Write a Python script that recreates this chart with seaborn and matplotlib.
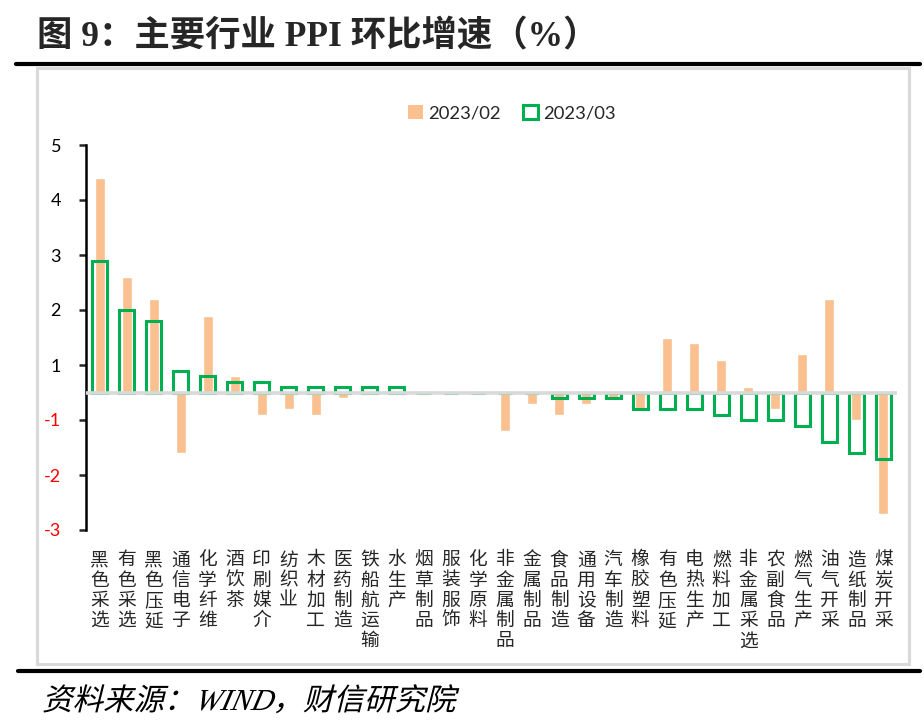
import matplotlib
matplotlib.use("Agg")
import matplotlib.pyplot as plt
from matplotlib.patches import Rectangle, PathPatch
from matplotlib.lines import Line2D
from matplotlib.textpath import TextPath
from matplotlib.font_manager import FontProperties
from matplotlib.transforms import Affine2D
import pandas as pd
import seaborn as sns

sns.set_style("white")
plt.rcParams['font.family'] = ['Noto Sans CJK SC', 'DejaVu Sans']

# 行业名称
industries = ["黑色采选", "有色采选", "黑色压延", "通信电子", "化学纤维", "酒饮茶",
              "印刷媒介", "纺织业", "木材加工", "医药制造", "铁船航运输", "水生产",
              "烟草制品", "服装服饰", "化学原料", "非金属制品", "金属制品", "食品制造",
              "通用设备", "汽车制造", "橡胶塑料", "有色压延", "电热生产", "燃料加工",
              "非金属采选", "农副食品", "燃气生产", "油气开采", "造纸制品", "煤炭开采"]
ppi_feb = [3.9, 2.1, 1.7, -1.1, 1.4, 0.3, -0.4, -0.3, -0.4, -0.1, 0.0, 0.0,
           0.0, 0.0, 0.0, -0.7, -0.2, -0.4, -0.2, -0.1, -0.3, 1.0, 0.9, 0.6,
           0.1, -0.3, 0.7, 1.7, -0.5, -2.2]
ppi_mar = [2.4, 1.5, 1.3, 0.4, 0.3, 0.2, 0.2, 0.1, 0.1, 0.1, 0.1, 0.1,
           0.0, 0.0, 0.0, 0.0, 0.0, -0.1, -0.1, -0.1, -0.3, -0.3, -0.3, -0.4,
           -0.5, -0.5, -0.6, -0.9, -1.1, -1.2]
series_names = ["2023/02", "2023/03"]
# excel axis: ticks at half steps, labels rounded half away from zero
yticks = [4.5, 3.5, 2.5, 1.5, 0.5, -0.5, -1.5, -2.5]

ORANGE = "#FAC090"
GREEN = "#00B050"
GRAY = "#D9D9D9"

df = pd.DataFrame({"industry": industries, "feb": ppi_feb, "mar": ppi_mar})

W, H = 924, 722
fig = plt.figure(figsize=(W / 100, H / 100), dpi=100)
fig.patch.set_facecolor("white")

# axes box in pixels: x 86..897, y 145..530
ax = fig.add_axes([86 / W, 1 - 530 / H, (897 - 86) / W, (530 - 145) / H])

sns.barplot(data=df, x="industry", y="feb", order=industries, color=ORANGE,
            saturation=1, width=0.37, errorbar=None, ax=ax, zorder=2)
sns.barplot(data=df, x="industry", y="mar", order=industries, color=GREEN,
            saturation=1, fill=False, width=0.55, linewidth=2.2, errorbar=None,
            ax=ax, zorder=3)

ax.axhline(0, color=GRAY, lw=2.6, zorder=5)

ax.set_xlim(-0.5, len(industries) - 0.5)
ax.set_ylim(-2.5, 4.5)
ax.set_xlabel("")
ax.set_ylabel("")

for s in ["top", "right", "bottom"]:
    ax.spines[s].set_visible(False)
ax.spines["left"].set_color("black")
ax.spines["left"].set_linewidth(1.8)

def excel_round(v):
    r = int(abs(v) + 0.5)
    return str(r if v >= 0 else -r)

ax.set_yticks(yticks, labels=[excel_round(v) for v in yticks])
ax.tick_params(axis="y", direction="out", length=5, width=1.8, pad=13,
               labelsize=13, left=True)
for lbl, v in zip(ax.get_yticklabels(), yticks):
    lbl.set_family(["Lato", "DejaVu Sans"])
    lbl.set_color("red" if v < 0 else "black")

ax.set_xticks(range(len(industries)), labels=["\n".join(n) for n in industries])
ax.tick_params(axis="x", length=0, pad=14, labelsize=13.5)
for lbl in ax.get_xticklabels():
    lbl.set_linespacing(0.95)

# legend
handles = [Rectangle((0, 0), 1, 1, facecolor=ORANGE, edgecolor="none"),
           Rectangle((0, 0), 1, 1, facecolor="none", edgecolor=GREEN, lw=2.2)]
fig.legend(handles, series_names, loc="center", bbox_to_anchor=(512 / W, 1 - 113 / H),
           ncol=2, frameon=False, handlelength=0.8, handleheight=0.8,
           handletextpad=0.3, columnspacing=1.2,
           prop={"family": ["Lato", "DejaVu Sans"], "size": 13.3})

# frame and rules
fig.add_artist(Rectangle((37 / W, 1 - 664 / H), (909 - 37) / W, (664 - 68) / H,
                         transform=fig.transFigure, facecolor="none",
                         edgecolor=GRAY, lw=2.2, zorder=0))
fig.add_artist(Line2D([16 / W, 920 / W], [1 - 64 / H, 1 - 64 / H],
                      transform=fig.transFigure, color="black", lw=3))
fig.add_artist(Line2D([18 / W, 920 / W], [1 - 670.5 / H, 1 - 670.5 / H],
                      transform=fig.transFigure, color="black", lw=3))

fig.text(37 / W, 1 - 37 / H, "图 9：主要行业 PPI 环比增速（%）",
         family=["Liberation Serif", "Noto Sans CJK SC"], weight="bold",
         fontsize=25.5, ha="left", va="center")

# source note, slanted like the original italic
src_path = TextPath((0, 0), "资料来源：WIND，财信研究院", size=30.5,
                    prop=FontProperties(family=["Liberation Serif", "Noto Sans CJK SC"],
                                        style="italic"))
src_tr = Affine2D().skew_deg(14, 0).translate(42, H - 710)
fig.add_artist(PathPatch(src_path, transform=src_tr, facecolor="black",
                         edgecolor="none"))

fig.savefig("out.png", dpi=100, facecolor="white")
